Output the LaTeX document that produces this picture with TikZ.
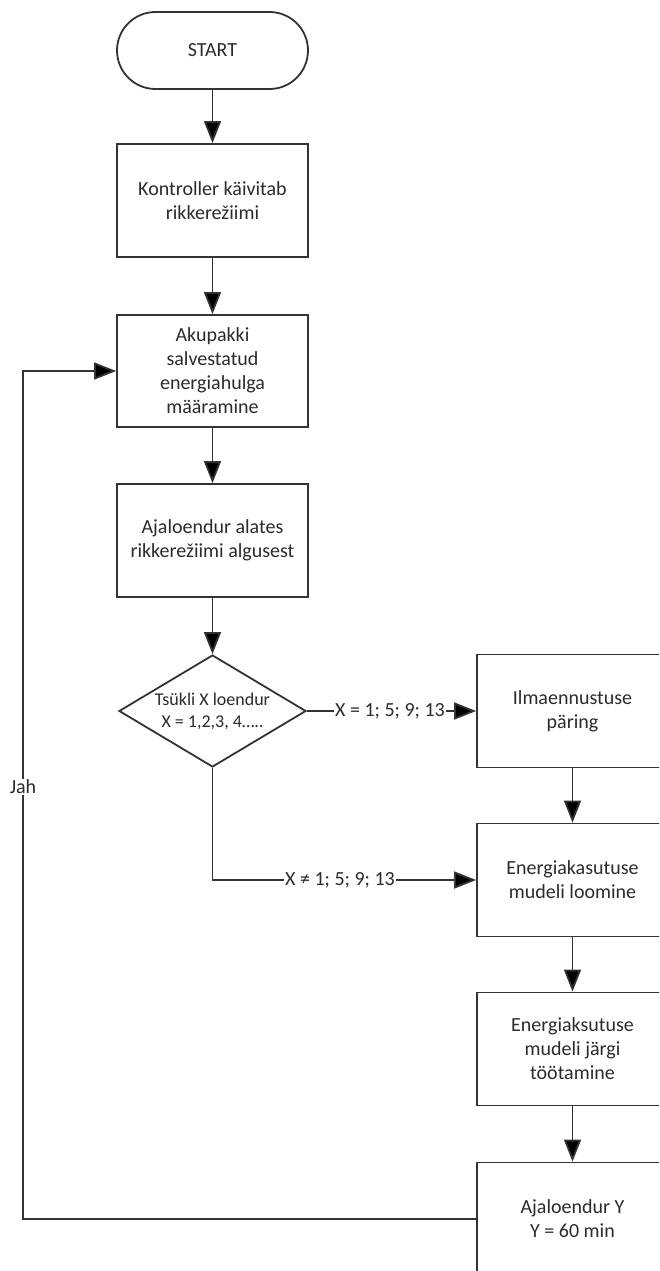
\documentclass[tikz,border=0pt]{standalone}
\usepackage{fontspec}
\setmainfont{Carlito}
\usetikzlibrary{arrows.meta,shapes.geometric,shapes.misc}
\definecolor{ln}{HTML}{333333}
\definecolor{txt}{HTML}{2B2B2B}
\begin{document}
\begin{tikzpicture}[x=1pt,y=-1pt,
  every node/.style={font=\fontsize{20}{24}\selectfont, text=txt},
  box/.style={draw=ln, line width=1.8pt, rectangle, minimum width=191pt, minimum height=113pt, align=center, inner sep=0pt},
  term/.style={draw=ln, line width=1.8pt, rounded rectangle, minimum width=191pt, minimum height=77pt, inner sep=0pt},
  dec/.style={draw=ln, line width=1.8pt, diamond, minimum width=187pt, minimum height=112pt, inner sep=-20pt, align=center, font=\fontsize{18}{22}\selectfont},
  lbl/.style={fill=white, inner sep=1pt},
  ln/.style={draw=ln, line width=1.8pt},
  arr/.style={draw=ln, line width=1.8pt, -{Triangle[length=22pt,width=17pt,fill=black]}},
]
\path[use as bounding box] (0,0) rectangle (659,1271);
\clip (0,0) rectangle (659,1271);
\fill[white] (0,0) rectangle (659,1271);

% left column
\node[term] (start) at (212.5,50.5) {START};
\node[box] (b1) at (212.5,200.5) {Kontroller käivitab\\rikkerežiimi};
\node[box, minimum height=112pt] (b2) at (212.5,371) {Akupakki\\salvestatud\\energiahulga\\määramine};
\node[box] (b3) at (212.5,540.5) {Ajaloendur alates\\rikkerežiimi algusest};
\node[dec] (d) at (212.5,711) {Tsükli X loendur\\X = 1,2,3, 4…..};

% right column
\node[box] (r1) at (572.5,711) {Ilmaennustuse\\päring};
\node[box] (r2) at (572.5,880) {Energiakasutuse\\mudeli loomine};
\node[box] (r3) at (572.5,1049) {Energiaksutuse\\mudeli järgi\\töötamine};
\node[box] (r4) at (572.5,1219) {Ajaloendur Y\\Y = 60 min};

% labels on connectors
\node[inner sep=1pt] (xeq) at (390,711) {X = 1; 5; 9; 13};
\node[lbl] (xne) at (340,880) {X ≠ 1; 5; 9; 13};
\coordinate (lb) at (23,1219);
\coordinate (lt) at (23,371);

% connectors
\draw[arr] (start.south) -- (b1.north);
\draw[arr] (b1.south) -- (b2.north);
\draw[arr] (b2.south) -- (b3.north);
\draw[arr] (b3.south) -- (d.north);
\draw[ln] (d.east) -- (xeq.west);
\draw[arr] (xeq.east) -- (r1.west);
\draw[ln] (d.south) |- (xne.west);
\draw[arr] (xne.east) -- (r2.west);
\draw[arr] (r1.south) -- (r2.north);
\draw[arr] (r2.south) -- (r3.north);
\draw[arr] (r3.south) -- (r4.north);
\draw[arr] (r4.west) -- (lb) -- node[pos=0.51, lbl] {Jah} (lt) -- (b2.west);
\end{tikzpicture}
\end{document}
